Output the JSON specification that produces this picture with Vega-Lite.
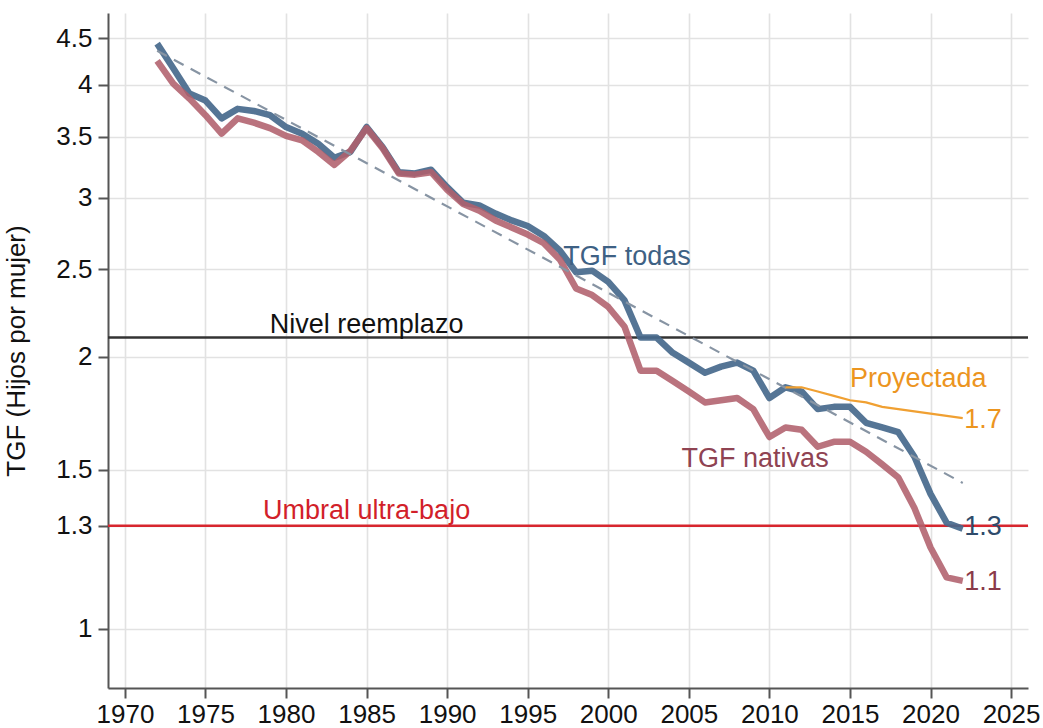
{
  "$schema": "https://vega.github.io/schema/vega-lite/v6.json",
  "width": 920,
  "height": 675,
  "autosize": "none",
  "padding": {"left": 108, "top": 13, "right": 15, "bottom": 40},
  "background": "white",
  "config": {
    "font": "Liberation Sans",
    "view": {"stroke": null},
    "axis": {
      "labelFont": "Liberation Sans",
      "titleFont": "Liberation Sans",
      "labelFontSize": 26,
      "labelColor": "#111111",
      "titleColor": "#111111",
      "titleFontWeight": "normal",
      "tickSize": 10,
      "tickWidth": 2,
      "tickColor": "#555555",
      "domainColor": "#555555",
      "domainWidth": 2,
      "gridColor": "#e2e2e2",
      "gridWidth": 1.6,
      "labelFlush": false,
      "labelOverlap": false
    }
  },
  "datasets": {
    "tgf": [
      {"anio": 1972, "serie": "todas", "tgf": 4.44}, {"anio": 1973, "serie": "todas", "tgf": 4.17},
      {"anio": 1974, "serie": "todas", "tgf": 3.91}, {"anio": 1975, "serie": "todas", "tgf": 3.84},
      {"anio": 1976, "serie": "todas", "tgf": 3.67}, {"anio": 1977, "serie": "todas", "tgf": 3.76},
      {"anio": 1978, "serie": "todas", "tgf": 3.74}, {"anio": 1979, "serie": "todas", "tgf": 3.70},
      {"anio": 1980, "serie": "todas", "tgf": 3.59}, {"anio": 1981, "serie": "todas", "tgf": 3.53},
      {"anio": 1982, "serie": "todas", "tgf": 3.44}, {"anio": 1983, "serie": "todas", "tgf": 3.32},
      {"anio": 1984, "serie": "todas", "tgf": 3.37}, {"anio": 1985, "serie": "todas", "tgf": 3.59},
      {"anio": 1986, "serie": "todas", "tgf": 3.41}, {"anio": 1987, "serie": "todas", "tgf": 3.20},
      {"anio": 1988, "serie": "todas", "tgf": 3.19}, {"anio": 1989, "serie": "todas", "tgf": 3.22},
      {"anio": 1990, "serie": "todas", "tgf": 3.08}, {"anio": 1991, "serie": "todas", "tgf": 2.96},
      {"anio": 1992, "serie": "todas", "tgf": 2.94}, {"anio": 1993, "serie": "todas", "tgf": 2.88},
      {"anio": 1994, "serie": "todas", "tgf": 2.83}, {"anio": 1995, "serie": "todas", "tgf": 2.79},
      {"anio": 1996, "serie": "todas", "tgf": 2.72}, {"anio": 1997, "serie": "todas", "tgf": 2.62},
      {"anio": 1998, "serie": "todas", "tgf": 2.48}, {"anio": 1999, "serie": "todas", "tgf": 2.49},
      {"anio": 2000, "serie": "todas", "tgf": 2.42}, {"anio": 2001, "serie": "todas", "tgf": 2.31},
      {"anio": 2002, "serie": "todas", "tgf": 2.10}, {"anio": 2003, "serie": "todas", "tgf": 2.10},
      {"anio": 2004, "serie": "todas", "tgf": 2.02}, {"anio": 2005, "serie": "todas", "tgf": 1.97},
      {"anio": 2006, "serie": "todas", "tgf": 1.92}, {"anio": 2007, "serie": "todas", "tgf": 1.95},
      {"anio": 2008, "serie": "todas", "tgf": 1.97}, {"anio": 2009, "serie": "todas", "tgf": 1.93},
      {"anio": 2010, "serie": "todas", "tgf": 1.80}, {"anio": 2011, "serie": "todas", "tgf": 1.85},
      {"anio": 2012, "serie": "todas", "tgf": 1.83}, {"anio": 2013, "serie": "todas", "tgf": 1.75},
      {"anio": 2014, "serie": "todas", "tgf": 1.76}, {"anio": 2015, "serie": "todas", "tgf": 1.76},
      {"anio": 2016, "serie": "todas", "tgf": 1.69}, {"anio": 2017, "serie": "todas", "tgf": 1.67},
      {"anio": 2018, "serie": "todas", "tgf": 1.65}, {"anio": 2019, "serie": "todas", "tgf": 1.55},
      {"anio": 2020, "serie": "todas", "tgf": 1.41}, {"anio": 2021, "serie": "todas", "tgf": 1.31},
      {"anio": 2022, "serie": "todas", "tgf": 1.29},
      {"anio": 1972, "serie": "nativas", "tgf": 4.25}, {"anio": 1973, "serie": "nativas", "tgf": 4.01},
      {"anio": 1974, "serie": "nativas", "tgf": 3.86}, {"anio": 1975, "serie": "nativas", "tgf": 3.70},
      {"anio": 1976, "serie": "nativas", "tgf": 3.53}, {"anio": 1977, "serie": "nativas", "tgf": 3.67},
      {"anio": 1978, "serie": "nativas", "tgf": 3.63}, {"anio": 1979, "serie": "nativas", "tgf": 3.58},
      {"anio": 1980, "serie": "nativas", "tgf": 3.51}, {"anio": 1981, "serie": "nativas", "tgf": 3.47},
      {"anio": 1982, "serie": "nativas", "tgf": 3.37}, {"anio": 1983, "serie": "nativas", "tgf": 3.26},
      {"anio": 1984, "serie": "nativas", "tgf": 3.38}, {"anio": 1985, "serie": "nativas", "tgf": 3.58},
      {"anio": 1986, "serie": "nativas", "tgf": 3.40}, {"anio": 1987, "serie": "nativas", "tgf": 3.19},
      {"anio": 1988, "serie": "nativas", "tgf": 3.18}, {"anio": 1989, "serie": "nativas", "tgf": 3.20},
      {"anio": 1990, "serie": "nativas", "tgf": 3.06}, {"anio": 1991, "serie": "nativas", "tgf": 2.95},
      {"anio": 1992, "serie": "nativas", "tgf": 2.90}, {"anio": 1993, "serie": "nativas", "tgf": 2.83},
      {"anio": 1994, "serie": "nativas", "tgf": 2.78}, {"anio": 1995, "serie": "nativas", "tgf": 2.73},
      {"anio": 1996, "serie": "nativas", "tgf": 2.67}, {"anio": 1997, "serie": "nativas", "tgf": 2.56},
      {"anio": 1998, "serie": "nativas", "tgf": 2.38}, {"anio": 1999, "serie": "nativas", "tgf": 2.34},
      {"anio": 2000, "serie": "nativas", "tgf": 2.27}, {"anio": 2001, "serie": "nativas", "tgf": 2.16},
      {"anio": 2002, "serie": "nativas", "tgf": 1.93}, {"anio": 2003, "serie": "nativas", "tgf": 1.93},
      {"anio": 2004, "serie": "nativas", "tgf": 1.88}, {"anio": 2005, "serie": "nativas", "tgf": 1.83},
      {"anio": 2006, "serie": "nativas", "tgf": 1.78}, {"anio": 2007, "serie": "nativas", "tgf": 1.79},
      {"anio": 2008, "serie": "nativas", "tgf": 1.80}, {"anio": 2009, "serie": "nativas", "tgf": 1.75},
      {"anio": 2010, "serie": "nativas", "tgf": 1.63}, {"anio": 2011, "serie": "nativas", "tgf": 1.67},
      {"anio": 2012, "serie": "nativas", "tgf": 1.66}, {"anio": 2013, "serie": "nativas", "tgf": 1.59},
      {"anio": 2014, "serie": "nativas", "tgf": 1.61}, {"anio": 2015, "serie": "nativas", "tgf": 1.61},
      {"anio": 2016, "serie": "nativas", "tgf": 1.57}, {"anio": 2017, "serie": "nativas", "tgf": 1.52},
      {"anio": 2018, "serie": "nativas", "tgf": 1.47}, {"anio": 2019, "serie": "nativas", "tgf": 1.36},
      {"anio": 2020, "serie": "nativas", "tgf": 1.23}, {"anio": 2021, "serie": "nativas", "tgf": 1.14},
      {"anio": 2022, "serie": "nativas", "tgf": 1.13},
      {"anio": 2011, "serie": "proyectada", "tgf": 1.85}, {"anio": 2012, "serie": "proyectada", "tgf": 1.85},
      {"anio": 2013, "serie": "proyectada", "tgf": 1.83}, {"anio": 2014, "serie": "proyectada", "tgf": 1.81},
      {"anio": 2015, "serie": "proyectada", "tgf": 1.79}, {"anio": 2016, "serie": "proyectada", "tgf": 1.78},
      {"anio": 2017, "serie": "proyectada", "tgf": 1.76}, {"anio": 2018, "serie": "proyectada", "tgf": 1.75},
      {"anio": 2019, "serie": "proyectada", "tgf": 1.74}, {"anio": 2020, "serie": "proyectada", "tgf": 1.73},
      {"anio": 2021, "serie": "proyectada", "tgf": 1.72}, {"anio": 2022, "serie": "proyectada", "tgf": 1.71},
      {"anio": 1972, "serie": "tendencia", "tgf": 4.36}, {"anio": 2022, "serie": "tendencia", "tgf": 1.45}
    ]
  },
  "layer": [
    {
      "data": {"values": [{"tgf": 2.1}]},
      "mark": {"type": "rule", "color": "#333333", "strokeWidth": 2.5},
      "encoding": {
        "y": {
          "field": "tgf", "type": "quantitative",
          "scale": {"type": "log", "domain": [0.86, 4.8], "nice": false, "zero": false},
          "axis": {
            "values": [1, 1.3, 1.5, 2, 2.5, 3, 3.5, 4, 4.5],
            "format": ".2~f",
            "title": "TGF (Hijos por mujer)",
            "titleFontSize": 26,
            "titleX": -84,
            "titleBaseline": "alphabetic",
            "labelPadding": 6
          }
        }
      }
    },
    {
      "data": {"values": [{"tgf": 1.3}]},
      "mark": {"type": "rule", "color": "#d7262e", "strokeWidth": 2.5},
      "encoding": {"y": {"field": "tgf", "type": "quantitative"}}
    },
    {
      "data": {"name": "tgf"},
      "transform": [{"filter": "datum.serie === 'todas'"}],
      "mark": {"type": "line", "color": "#46698c", "strokeWidth": 6.5, "opacity": 0.92, "strokeJoin": "round"},
      "encoding": {
        "x": {
          "field": "anio", "type": "quantitative",
          "scale": {"domain": [1968.95, 2026.05], "nice": false, "zero": false},
          "axis": {
            "values": [1970, 1975, 1980, 1985, 1990, 1995, 2000, 2005, 2010, 2015, 2020, 2025],
            "format": "d",
            "title": null,
            "labelPadding": 3
          }
        },
        "y": {"field": "tgf", "type": "quantitative"}
      }
    },
    {
      "data": {"name": "tgf"},
      "transform": [{"filter": "datum.serie === 'nativas'"}],
      "mark": {"type": "line", "color": "#b0606c", "strokeWidth": 6.5, "opacity": 0.88, "strokeJoin": "round"},
      "encoding": {
        "x": {"field": "anio", "type": "quantitative"},
        "y": {"field": "tgf", "type": "quantitative"}
      }
    },
    {
      "data": {"name": "tgf"},
      "transform": [{"filter": "datum.serie === 'tendencia'"}],
      "mark": {"type": "line", "color": "#8794a3", "strokeWidth": 2.2, "strokeDash": [11, 8]},
      "encoding": {
        "x": {"field": "anio", "type": "quantitative"},
        "y": {"field": "tgf", "type": "quantitative"}
      }
    },
    {
      "data": {"name": "tgf"},
      "transform": [{"filter": "datum.serie === 'proyectada'"}],
      "mark": {"type": "line", "color": "#f0a032", "strokeWidth": 2.2},
      "encoding": {
        "x": {"field": "anio", "type": "quantitative"},
        "y": {"field": "tgf", "type": "quantitative"}
      }
    },
    {
      "data": {"values": [{"anio": 1985, "tgf": 2.1, "texto": "Nivel reemplazo"}]},
      "mark": {"type": "text", "color": "#111111", "fontSize": 27, "align": "center", "baseline": "alphabetic", "dy": -5},
      "encoding": {
        "x": {"field": "anio", "type": "quantitative"},
        "y": {"field": "tgf", "type": "quantitative"},
        "text": {"field": "texto"}
      }
    },
    {
      "data": {"values": [{"anio": 1985, "tgf": 1.3, "texto": "Umbral ultra-bajo"}]},
      "mark": {"type": "text", "color": "#d21f2a", "fontSize": 27, "align": "center", "baseline": "alphabetic", "dy": -7},
      "encoding": {
        "x": {"field": "anio", "type": "quantitative"},
        "y": {"field": "tgf", "type": "quantitative"},
        "text": {"field": "texto"}
      }
    },
    {
      "data": {"values": [{"anio": 1997.2, "tgf": 2.525, "texto": "TGF todas"}]},
      "mark": {"type": "text", "color": "#3e6184", "fontSize": 27, "align": "left", "baseline": "alphabetic"},
      "encoding": {
        "x": {"field": "anio", "type": "quantitative"},
        "y": {"field": "tgf", "type": "quantitative"},
        "text": {"field": "texto"}
      }
    },
    {
      "data": {"values": [{"anio": 2004.55, "tgf": 1.51, "texto": "TGF nativas"}]},
      "mark": {"type": "text", "color": "#8f4352", "fontSize": 27, "align": "left", "baseline": "alphabetic"},
      "encoding": {
        "x": {"field": "anio", "type": "quantitative"},
        "y": {"field": "tgf", "type": "quantitative"},
        "text": {"field": "texto"}
      }
    },
    {
      "data": {"values": [{"anio": 2015.0, "tgf": 1.851, "texto": "Proyectada"}]},
      "mark": {"type": "text", "color": "#ec951f", "fontSize": 27, "align": "left", "baseline": "alphabetic"},
      "encoding": {
        "x": {"field": "anio", "type": "quantitative"},
        "y": {"field": "tgf", "type": "quantitative"},
        "text": {"field": "texto"}
      }
    },
    {
      "data": {"values": [{"anio": 2022.09, "tgf": 1.667, "texto": "1.7"}]},
      "mark": {"type": "text", "color": "#ec951f", "fontSize": 27, "align": "left", "baseline": "alphabetic"},
      "encoding": {
        "x": {"field": "anio", "type": "quantitative"},
        "y": {"field": "tgf", "type": "quantitative"},
        "text": {"field": "texto"}
      }
    },
    {
      "data": {"values": [{"anio": 2022.09, "tgf": 1.27, "texto": "1.3"}]},
      "mark": {"type": "text", "color": "#2f4b6b", "fontSize": 27, "align": "left", "baseline": "alphabetic"},
      "encoding": {
        "x": {"field": "anio", "type": "quantitative"},
        "y": {"field": "tgf", "type": "quantitative"},
        "text": {"field": "texto"}
      }
    },
    {
      "data": {"values": [{"anio": 2022.09, "tgf": 1.105, "texto": "1.1"}]},
      "mark": {"type": "text", "color": "#8a3a4a", "fontSize": 27, "align": "left", "baseline": "alphabetic"},
      "encoding": {
        "x": {"field": "anio", "type": "quantitative"},
        "y": {"field": "tgf", "type": "quantitative"},
        "text": {"field": "texto"}
      }
    }
  ]
}
